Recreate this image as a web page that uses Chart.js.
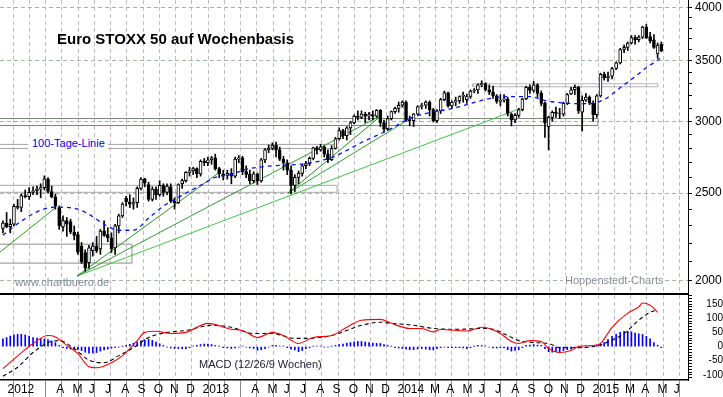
<!DOCTYPE html>
<html lang="de">
<head>
  <meta charset="UTF-8">
  <title>Euro STOXX 50 auf Wochenbasis</title>
  <script src="https://cdn.jsdelivr.net/npm/chart.js"></script>
  <style>
    body {
      margin: 0;
      background: #fff;
      font-family: 'Liberation Sans', Arial, sans-serif;
    }
    .wrap {
      position: relative;
      width: 723px;
      height: 397px;
      overflow: hidden;
    }
    canvas {
      position: absolute;
      left: 0;
    }
    #priceChart { top: 0; }
    #macdChart { top: 295px; }
    .note {
      position: absolute;
      white-space: nowrap;
    }
    .title {
      left: 57px; top: 31px;
      font-size: 15px; line-height: 15px; font-weight: bold; color: #000;
    }
    .ma-label {
      left: 28px; top: 137px;
      padding: 0 3px 0 4px;
      font-size: 11px; line-height: 13px; color: #0000ee; background: #fff;
    }
    .source {
      left: 15px; top: 277px;
      font-size: 11px; line-height: 11px; color: #7f8a98;
    }
    .vendor {
      left: 563px; top: 275px;
      padding: 0 2px;
      font-size: 11px; line-height: 11px; color: #858a96; background: #fff;
    }
    .macd-label {
      left: 199px; top: 359px;
      font-size: 11px; line-height: 11px; color: #222238;
    }
  </style>
</head>
<body>
<div class="wrap">
  <canvas id="priceChart" width="723" height="295"></canvas>
  <canvas id="macdChart" width="723" height="102"></canvas>
  <div class="note title">Euro STOXX 50 auf Wochenbasis</div>
  <div class="note ma-label">100-Tage-Linie</div>
  <div class="note source">www.chartbuero.de</div>
  <div class="note vendor">Hoppenstedt-Charts</div>
  <div class="note macd-label">MACD (12/26/9 Wochen)</div>
</div>

<script>
  // Wochenkerzen ab der Woche vom 26.12.2011 (Montag)
  const firstWeek = '2011-12-26';

  const open = [
    2285,2317,2296,2310,2418,2410,2485,2478,2505,2515,
    2525,2535,2590,2510,2477,2410,2295,2332,2325,2265,
    2250,2185,2150,2095,2160,2185,2170,2272,2250,2232,
    2175,2300,2360,2468,2445,2430,2440,2530,2590,2555,
    2460,2525,2490,2550,2505,2540,2450,2440,2560,2580,
    2635,2645,2660,2625,2710,2700,2720,2735,2660,2625,
    2615,2628,2610,2725,2735,2640,2622,2580,2625,2578,
    2720,2790,2802,2822,2790,2725,2700,2650,2550,2602,
    2628,2680,2695,2730,2805,2790,2812,2760,2722,2800,
    2870,2930,2893,2950,2990,3040,3030,3055,3040,3052,
    3040,3085,2990,2945,3020,3075,3100,3125,3150,3012,
    3005,3055,3115,3125,3150,3090,3005,3080,3170,3225,
    3120,3150,3162,3195,3170,3195,3240,3248,3290,3300,
    3250,3230,3200,3155,3165,3175,3055,3010,3045,3090,
    3175,3270,3245,3290,3220,3140,2960,3030,3070,3060,
    3055,3140,3215,3250,3270,3070,3165,3190,3140,3050,
    3200,3380,3350,3365,3430,3480,3600,3620,3660,3710,
    3690,3715,3810,3720,3690,3560,3650
  ];
  const high = [
    2330,2380,2340,2430,2460,2495,2520,2535,2540,2545,
    2560,2612,2600,2545,2495,2420,2360,2350,2340,2300,
    2265,2205,2165,2190,2205,2240,2280,2330,2290,2260,
    2310,2370,2440,2480,2490,2470,2540,2600,2596,2570,
    2540,2540,2580,2560,2560,2560,2470,2560,2590,2640,
    2670,2670,2665,2720,2730,2740,2745,2760,2670,2650,
    2650,2660,2740,2750,2745,2680,2650,2640,2632,2730,
    2800,2825,2840,2845,2810,2745,2720,2680,2620,2645,
    2690,2710,2740,2810,2815,2830,2820,2790,2820,2880,
    2950,2940,2960,3000,3050,3080,3080,3070,3070,3080,
    3090,3090,3010,3040,3080,3110,3150,3160,3160,3040,
    3060,3120,3140,3160,3160,3100,3090,3180,3240,3230,
    3160,3190,3200,3230,3215,3250,3260,3300,3325,3310,
    3290,3280,3210,3210,3210,3190,3065,3060,3100,3180,
    3280,3290,3320,3300,3240,3150,3040,3080,3110,3100,
    3150,3220,3270,3290,3280,3200,3220,3200,3160,3210,
    3390,3400,3400,3440,3490,3610,3640,3670,3730,3730,
    3730,3820,3836,3760,3740,3660,3670
  ];
  const low = [
    2260,2290,2260,2300,2400,2385,2470,2460,2490,2490,
    2470,2520,2500,2470,2400,2280,2270,2240,2255,2220,
    2140,2090,2050,2065,2130,2150,2140,2240,2210,2150,
    2140,2260,2350,2420,2410,2400,2410,2520,2540,2450,
    2450,2460,2480,2480,2490,2440,2400,2435,2530,2570,
    2610,2620,2600,2610,2680,2680,2690,2650,2600,2585,
    2590,2560,2600,2700,2620,2600,2560,2565,2555,2570,
    2700,2770,2790,2740,2715,2650,2620,2495,2510,2560,
    2610,2660,2680,2720,2760,2780,2740,2700,2715,2795,
    2860,2870,2860,2900,2980,3010,3020,2990,3010,3010,
    3030,2960,2920,2930,3010,3060,3070,3110,3000,2965,
    2960,3050,3095,3100,3040,2995,2990,3060,3160,3110,
    3100,3120,3140,3150,3140,3180,3225,3220,3275,3240,
    3210,3180,3140,3120,3150,3040,2965,2990,3030,3080,
    3170,3220,3230,3190,3120,2880,2790,3000,3030,3020,
    3040,3130,3210,3210,3060,2925,3155,3130,3000,3030,
    3190,3330,3320,3340,3420,3470,3570,3590,3650,3650,
    3670,3700,3700,3660,3610,3520,3580
  ];
  const close = [
    2317,2296,2310,2418,2410,2485,2478,2505,2515,2525,
    2535,2593,2510,2477,2418,2300,2332,2310,2265,2245,
    2152,2100,2068,2175,2185,2160,2270,2245,2232,2170,
    2300,2360,2432,2445,2430,2440,2530,2590,2565,2460,
    2525,2490,2550,2505,2545,2450,2440,2555,2580,2635,
    2645,2660,2625,2710,2700,2720,2735,2660,2625,2615,
    2628,2610,2725,2735,2640,2622,2580,2625,2578,2720,
    2790,2802,2822,2790,2725,2700,2650,2550,2602,2628,
    2680,2695,2730,2805,2790,2812,2760,2722,2800,2870,
    2930,2893,2950,2990,3040,3030,3055,3040,3052,3040,
    3085,2990,2940,3020,3075,3100,3125,3150,3012,3005,
    3055,3115,3125,3150,3090,3005,3080,3170,3225,3120,
    3150,3162,3195,3205,3195,3240,3248,3290,3302,3250,
    3230,3200,3155,3165,3175,3060,3010,3045,3090,3175,
    3270,3245,3290,3220,3140,2990,3030,3070,3060,3055,
    3140,3210,3250,3270,3080,3165,3190,3146,3050,3200,
    3380,3350,3365,3430,3480,3600,3620,3660,3710,3690,
    3715,3810,3710,3680,3620,3640,3590
  ];

  // 100-Tage-Linie (Wochenindex -> Wert)
  const maWeeks = [0,5,10,14,19,23,27,31,35,39,43,49,54,57,61,65,70,74,79,83,88,92,96,103,109,114,120,125,130,136,141,145,149,153,157,161,165,169,172,176];
  const maValues = [2247,2328,2394,2412,2406,2369,2310,2275,2275,2346,2418,2499,2563,2602,2622,2655,2675,2682,2689,2703,2737,2786,2843,2931,3021,3067,3098,3138,3178,3194,3194,3162,3146,3138,3138,3170,3267,3360,3437,3525];

  // MACD-Linie und Signallinie
  const macdWeeks = [0,5,8,12,14,17,20,23,25,29,32,36,38,41,45,49,55,61,64,68,72,75,79,83,88,92,96,101,104,109,112,115,117,124,128,130,133,136,138,141,144,146,149,152,154,158,160,163,167,170,171,173,175];
  const macdValues = [-78,-22,11,39,34,4,-25,-71,-75,-57,-32,21,50,54,46,50,82,61,57,32,50,39,11,32,39,68,93,96,82,64,64,52,60,55,68,64,46,18,11,21,18,-7,-21,-14,0,4,11,68,118,140,154,146,121];
  const signalWeeks = [0,4,8,12,15,19,23,27,31,35,39,44,49,56,61,67,72,78,81,88,96,101,104,110,115,122,128,131,135,138,142,146,149,153,158,161,166,170,173,175];
  const signalValues = [-105,-73,-21,14,21,-7,-48,-57,-32,-4,32,50,57,75,68,46,46,29,29,39,75,86,82,75,64,61,64,61,39,21,14,11,-4,-4,0,11,46,93,121,129];

  // MACD-Histogramm, eine Saeule je Woche
  const histValues = [
    27,32,37,41,43,43,41,37,32,30,
    29,27,25,20,14,4,-4,-7,-9,-9,
    -11,-14,-20,-23,-23,-21,-16,-12,-9,-6,
    -4,-2,1,4,8,12,16,20,24,26,
    22,16,10,4,-2,-5,-7,-7,-7,-7,
    -4,2,4,7,9,9,7,4,1,-4,
    -5,-7,-5,-2,2,-2,-5,-7,-13,-11,
    -7,-2,4,4,2,2,-4,-9,-12,-18,
    -14,-7,-4,1,2,2,-1,-2,1,4,
    7,9,12,14,16,18,18,16,14,12,
    11,11,7,4,1,-4,-5,-7,-9,-11,
    -11,-9,-7,-9,-11,-12,-7,-4,-2,-4,
    -4,-4,-4,-5,-7,-4,1,4,4,2,
    -2,-5,-5,-4,-5,-11,-16,-14,-11,-4,
    4,5,7,5,4,-7,-18,-20,-18,-18,
    -14,-11,-9,-4,2,-2,1,2,4,5,
    7,14,25,36,43,50,54,54,52,48,
    45,43,36,27,14,5,-4
  ];

  // Monatsachse: Index 0 = Januar 2012
  const monthLabels = [
    '2012','','','A','M','J','J','A','S','O','N','D',
    '2013','','','A','M','J','J','A','S','O','N','D',
    '2014','','M','A','M','J','J','A','S','O','N','D',
    '2015','','M','A','M','J',''
  ];
  const priceTicks = [2000,2100,2200,2300,2400,2500,2600,2700,2800,2900,3000,3100,3200,3300,3400,3500,3600,3700,3800,3900,4000];
  const macdTicks = [-110,-100,-90,-80,-70,-60,-50,-40,-30,-20,-10,0,10,20,30,40,50,60,70,80,90,100,110,120,130,140,150,160,170,180];

  // eingezeichnete Zonen [von Monat, bis Monat, unten, oben] und Trendlinien [Monat, Kurs, Monat, Kurs]
  const zones = [
    [-0.6, 20.43, 2800, 2829],
    [-0.6, 20.43, 2505, 2550],
    [-0.6, 7.81, 2093, 2196],
    [-0.6, 36.49, 2968, 3021],
    [28.8, 40.18, 3275, 3300]
  ];
  const trendLines = [
    [-0.31, 2152, 3.07, 2406],
    [4.43, 2025, 13.1, 2628],
    [4.43, 2025, 23.2, 3048],
    [4.43, 2025, 31.69, 3098],
    [17.41, 2499, 23.2, 3048],
    [17.41, 2499, 25.04, 3029]
  ];

  const zoneColors = ['#a4a4a4', '#a8a8a8', '#8c8c8c', '#7a887a', '#b6b0b6'];
  const trendColors = ['#2a9a2a', '#239523', '#2a9a2a', '#3cc83c', '#1f8f1f', '#2aa42a'];

  // Wochenmitte (Mittwoch) als Monatsposition
  function weekPos(k) {
    const d = new Date(firstWeek + 'T00:00:00Z');
    d.setUTCDate(d.getUTCDate() + 7 * k + 2);
    const y = d.getUTCFullYear(), m = d.getUTCMonth();
    const days = new Date(Date.UTC(y, m + 1, 0)).getUTCDate();
    return (y - 2012) * 12 + m + (d.getUTCDate() - 1) / days;
  }

  const xMin = -0.31, xMax = 42.03;
  const vGrid = '#c6b8cc';
  Chart.defaults.font.family = "'Liberation Sans', Arial, sans-serif";
  Chart.defaults.color = '#000';

  const monthTicks = s => { s.ticks = monthLabels.map((_, i) => ({ value: i })); };
  const noPad = s => { s.paddingTop = 0; s.paddingBottom = 0; s.paddingLeft = 0; s.paddingRight = 0; };

  const wicks = open.map((_, k) => ({ x: weekPos(k), y: [low[k], high[k]] }));
  const bodies = open.map((o, k) => ({ x: weekPos(k), y: [o, close[k]] }));
  const bodyColors = open.map((o, k) => close[k] >= o ? '#fff' : '#000');

  const zoneSets = zones.map((z, i) => ({
    type: 'line',
    data: [
      { x: z[0], y: z[2] }, { x: z[1], y: z[2] }, { x: z[1], y: z[3] },
      { x: z[0], y: z[3] }, { x: z[0], y: z[2] }
    ],
    borderColor: zoneColors[i], borderWidth: 1, pointRadius: 0, order: 6
  }));
  const trendSets = trendLines.map((t, i) => ({
    type: 'line',
    data: [{ x: t[0], y: t[1] }, { x: t[2], y: t[3] }],
    borderColor: trendColors[i], borderWidth: 1, pointRadius: 0, order: 5
  }));

  // Kurschart
  new Chart(document.getElementById('priceChart'), {
    type: 'line',
    data: {
      datasets: [
        {
          type: 'line',
          data: maWeeks.map((k, i) => ({ x: weekPos(k), y: maValues[i] })),
          borderColor: '#0010ff', borderWidth: 1.3, borderDash: [4, 4],
          pointRadius: 0, cubicInterpolationMode: 'monotone', order: 1
        },
        {
          type: 'bar', data: bodies, backgroundColor: bodyColors,
          borderColor: '#000', borderWidth: 1, borderSkipped: false,
          barThickness: 3, grouped: false, order: 2
        },
        {
          type: 'bar', data: wicks, backgroundColor: '#000',
          barThickness: 1, grouped: false, order: 3
        },
        ...trendSets,
        ...zoneSets
      ]
    },
    options: {
      responsive: false,
      animation: false,
      events: [],
      layout: { autoPadding: false, padding: { left: 0, right: 0, top: 0, bottom: 1 } },
      plugins: { legend: { display: false }, tooltip: { enabled: false } },
      scales: {
        x: {
          type: 'linear', min: xMin, max: xMax, offset: false,
          afterBuildTicks: monthTicks, afterFit: noPad,
          ticks: { display: false, autoSkip: false },
          grid: { color: vGrid, drawTicks: false },
          border: { color: '#000', width: 2, dash: [4, 3] }
        },
        y: {
          type: 'logarithmic', position: 'right', min: 1935, max: 4082, bounds: 'data',
          afterBuildTicks: s => { s.ticks = priceTicks.map(v => ({ value: v })); },
          afterFit: s => { s.width = 35; noPad(s); },
          ticks: {
            autoSkip: false, padding: 3, font: { size: 12 }, color: '#000',
            callback: v => v % 500 === 0 ? String(v) : ''
          },
          grid: {
            color: c => (c.tick && c.tick.value % 500 === 0) ? '#a2b6a2' : 'rgba(0,0,0,0)',
            tickColor: '#000', tickLength: 4
          },
          border: { color: '#000', width: 1, dash: [4, 3] }
        }
      }
    }
  });

  // MACD-Panel
  new Chart(document.getElementById('macdChart'), {
    type: 'line',
    data: {
      datasets: [
        {
          type: 'line',
          data: macdWeeks.map((k, i) => ({ x: weekPos(k), y: macdValues[i] })),
          borderColor: '#ff0000', borderWidth: 1.1, pointRadius: 0,
          cubicInterpolationMode: 'monotone', order: 1
        },
        {
          type: 'line',
          data: signalWeeks.map((k, i) => ({ x: weekPos(k), y: signalValues[i] })),
          borderColor: '#000', borderWidth: 1.1, borderDash: [4, 3], pointRadius: 0,
          cubicInterpolationMode: 'monotone', order: 2
        },
        {
          type: 'bar',
          data: histValues.map((v, k) => ({ x: weekPos(k), y: v })),
          backgroundColor: '#0000ff', barThickness: 1, grouped: false, order: 3
        }
      ]
    },
    options: {
      responsive: false,
      animation: false,
      events: [],
      layout: { autoPadding: false, padding: 0 },
      plugins: { legend: { display: false }, tooltip: { enabled: false } },
      scales: {
        x: {
          type: 'linear', min: xMin, max: xMax, offset: false,
          afterBuildTicks: monthTicks,
          afterFit: s => { s.height = 17; noPad(s); },
          ticks: {
            autoSkip: false, maxRotation: 0, minRotation: 0, align: 'start',
            labelOffset: 2.5, padding: -15, font: { size: 12 }, color: '#000',
            callback: v => monthLabels[Math.round(v)] || ''
          },
          grid: { color: vGrid, tickColor: '#8a8a8a', tickLength: 17 },
          border: { color: '#000', width: 1.5, dash: [4, 3] }
        },
        y: {
          position: 'right', min: -118, max: 182,
          afterBuildTicks: s => { s.ticks = macdTicks.map(v => ({ value: v })); },
          afterFit: s => { s.width = 35; noPad(s); },
          ticks: {
            autoSkip: false, crossAlign: 'far', padding: 8, font: { size: 10 }, color: '#000',
            callback: v => v % 50 === 0 ? String(v) : ''
          },
          grid: { drawOnChartArea: false, tickColor: '#000', tickLength: 4 },
          border: { color: '#000', width: 1 }
        }
      }
    }
  });
</script>
</body>
</html>
